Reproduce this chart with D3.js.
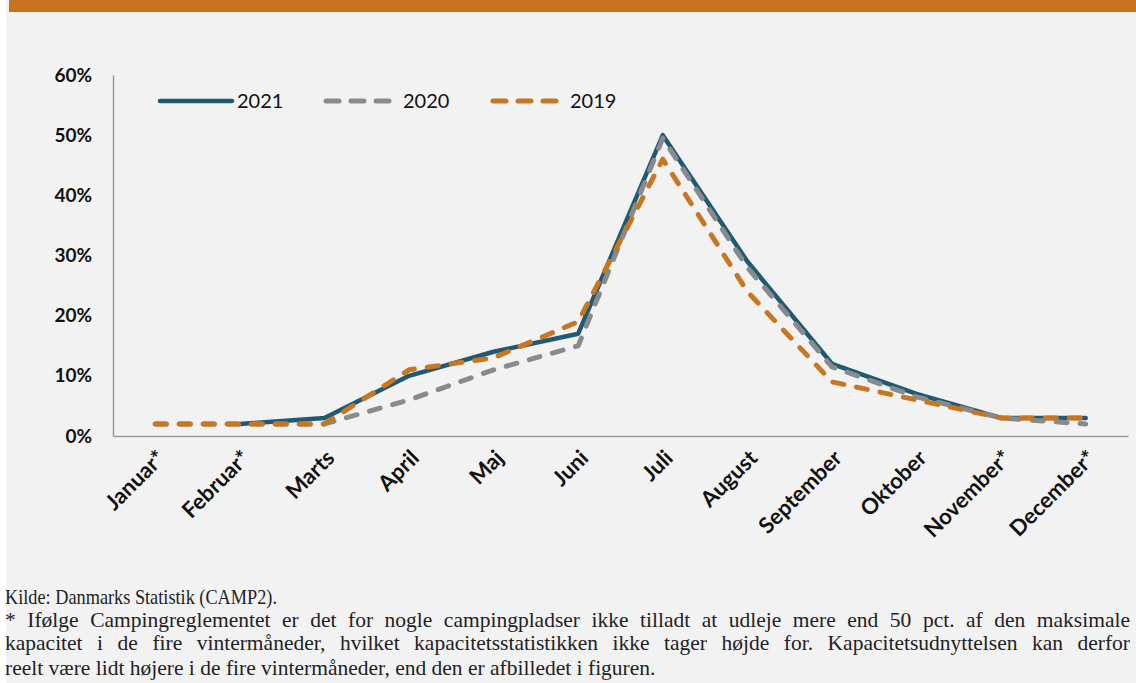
<!DOCTYPE html>
<html><head><meta charset="utf-8">
<script src="https://cdn.jsdelivr.net/npm/d3@7"></script>
<style>
html,body{margin:0;padding:0;background:#fff;}
svg{display:block;}
</style></head>
<body>
<svg id="c" width="1136" height="683"></svg>
<script>
const months = ["Januar*","Februar*","Marts","April","Maj","Juni","Juli","August","September","Oktober","November*","December*"];
const yTicks = [0,10,20,30,40,50,60];
const v2021 = [null,2,3,10,14,17,50,29,12,7,3,3];
const v2020 = [2,2,2,6,11,15,49.5,28,11.5,6.5,3,2];
const v2019 = [2,2,2,11,13,19,46,24,9,6,3,3];
const seriesNames = ["2021","2020","2019"];
const colors = ["#1f5a72","#888b8e","#c8761f"];
const footnote = [
 "Kilde: Danmarks Statistik (CAMP2).",
 "* Ifølge Campingreglementet er det for nogle campingpladser ikke tilladt at udleje mere end 50 pct. af den maksimale",
 "kapacitet i de fire vintermåneder, hvilket kapacitetsstatistikken ikke tager højde for. Kapacitetsudnyttelsen kan derfor",
 "reelt være lidt højere i de fire vintermåneder, end den er afbilledet i figuren."
];

const svg = d3.select("#c");
svg.append("rect").attr("x",6).attr("y",0).attr("width",1130).attr("height",683).attr("fill","#f2f2f2");
svg.append("rect").attr("x",9).attr("y",0).attr("width",1127).attr("height",12).attr("fill","#c8711a");

const x = d3.scaleBand().domain(months).range([113,1128]);
const y = d3.scaleLinear().domain([0,60]).range([436,75]);

const fontSans = "Lato, 'Open Sans', sans-serif";

// axes
const yAx = svg.append("g").attr("transform","translate(113,0)")
  .call(d3.axisLeft(y).tickValues(yTicks).tickFormat(d=>d+"%").tickSize(0).tickPadding(21));
yAx.select(".domain").attr("stroke","#9a9a9a").attr("stroke-width",1.5);
yAx.selectAll("text").attr("font-family",fontSans).attr("font-weight","bold").attr("font-size",19).attr("fill","#111");

const xAx = svg.append("g").attr("transform","translate(0,436)")
  .call(d3.axisBottom(x).tickSize(0).tickPadding(0));
xAx.select(".domain").attr("stroke","#9a9a9a").attr("stroke-width",1.5);
xAx.selectAll("text")
  .attr("font-family",fontSans).attr("font-weight","bold").attr("font-size",22).attr("fill","#111")
  .attr("text-anchor","end").attr("dy","0.35em")
  .attr("transform","translate(6,18) rotate(-45)");

const line = d3.line().defined(d=>d!=null)
  .x((d,i)=>x(months[i])+x.bandwidth()/2).y(d=>y(d));

const data = [v2021,v2020,v2019];
data.forEach((vals,k)=>{
  const p = svg.append("path").datum(vals).attr("d",line)
    .attr("fill","none").attr("stroke",colors[k]).attr("stroke-width",k==0?4.5:5)
    .attr("stroke-linejoin","round").attr("stroke-linecap","round");
  if(k>0) p.attr("stroke-dasharray","11 13");
});

// legend
const legX = [160,326,493];
const leg = svg.append("g");
seriesNames.forEach((n,k)=>{
  const l = leg.append("line").attr("x1",legX[k]).attr("x2",legX[k]+(k==0?72:66)).attr("y1",101).attr("y2",101)
    .attr("stroke",colors[k]).attr("stroke-width",k==0?4.5:5).attr("stroke-linecap","round");
  if(k>0) l.attr("stroke-dasharray","13 12");
  leg.append("text").attr("x",legX[k]+77).attr("y",108).text(n)
    .attr("font-family",fontSans).attr("font-size",20).attr("fill","#111");
});

// footnote
const fy = [604,627,650,675];
const justify = [false,true,true,false];
footnote.forEach((t,i)=>{
  const tx = svg.append("text").attr("x",5).attr("y",fy[i]).text(t)
    .attr("font-family","'Liberation Serif', serif").attr("font-size",21.5).attr("fill","#222");
  if(i==0) tx.attr("textLength",272).attr("lengthAdjust","spacingAndGlyphs");
  if(justify[i]){
    const w = tx.node().getComputedTextLength();
    const spaces = (t.match(/ /g)||[]).length;
    const extra = 1125 - w;
    if(extra>0) tx.attr("word-spacing", extra/spaces);
    else tx.attr("textLength",1125).attr("lengthAdjust","spacingAndGlyphs");
  }
});
</script>
</body></html>
